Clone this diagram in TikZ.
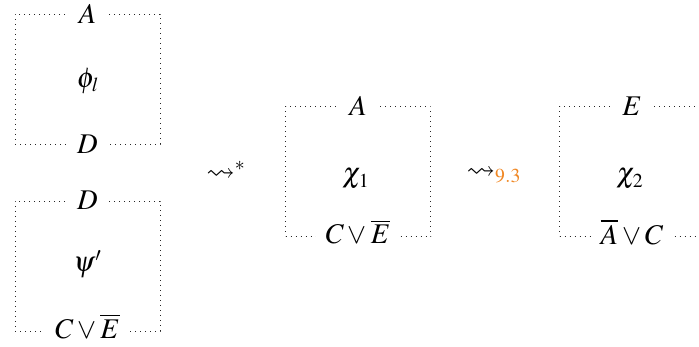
\documentclass[tikz,border=0pt]{standalone}
\usepackage{mathptmx}
\usepackage{amssymb}
\usepackage{fontspec}
\setmainfont{Liberation Serif}
\definecolor{lblorange}{RGB}{240,135,35}
\tikzset{
  box/.style={draw=black!85, line width=0.9pt, dash pattern=on 0.9pt off 4.1pt, minimum width=145pt, minimum height=130pt, inner sep=0pt},
  big/.style={font=\LARGE, scale=1.65, transform shape},
  lbl/.style={big, fill=white, inner xsep=6pt, inner ysep=0.5pt},
  mid/.style={big, inner sep=1pt},
}
\begin{document}
\begin{tikzpicture}[x=1pt,y=-1pt]
\useasboundingbox (0,0) rectangle (699,347);
\node[box] (b1) at (87.5,79) {};
\node[box] (b2) at (87.5,266) {};
\node[box] (b3) at (358,171.5) {};
\node[box] (b4) at (632,171.5) {};
% box 1
\node[lbl] (b1t) at (b1.north) {$A$};
\node[mid] (b1m) at (88,81) {$\phi_l$};
\node[lbl] (b1b) at (b1.south) {$D$};
% box 2
\node[lbl] (b2t) at (b2.north) {$D$};
\node[mid] (b2m) at (87.5,264) {$\psi'$};
\node[lbl, yshift=3pt] (b2b) at (b2.south) {$C\vee\overline{E}$};
% box 3
\node[lbl] (b3t) at (b3.north) {$A$};
\node[mid] (b3m) at (356,179) {$\chi_1$};
\node[lbl, yshift=3pt] (b3b) at (b3.south) {$C\vee\overline{E}$};
% box 4
\node[lbl] (b4t) at (b4.north) {$E$};
\node[mid] (b4m) at (630,179) {$\chi_2$};
\node[lbl, yshift=3pt] (b4b) at (b4.south) {$\overline{A}\vee C$};
% arrows
\node[mid] (r1) at (226,171) {$\leadsto^{*}$};
\node[mid] (r2) at (494,175) {$\leadsto_{\textcolor{lblorange}{9.3}}$};
\end{tikzpicture}
\end{document}
